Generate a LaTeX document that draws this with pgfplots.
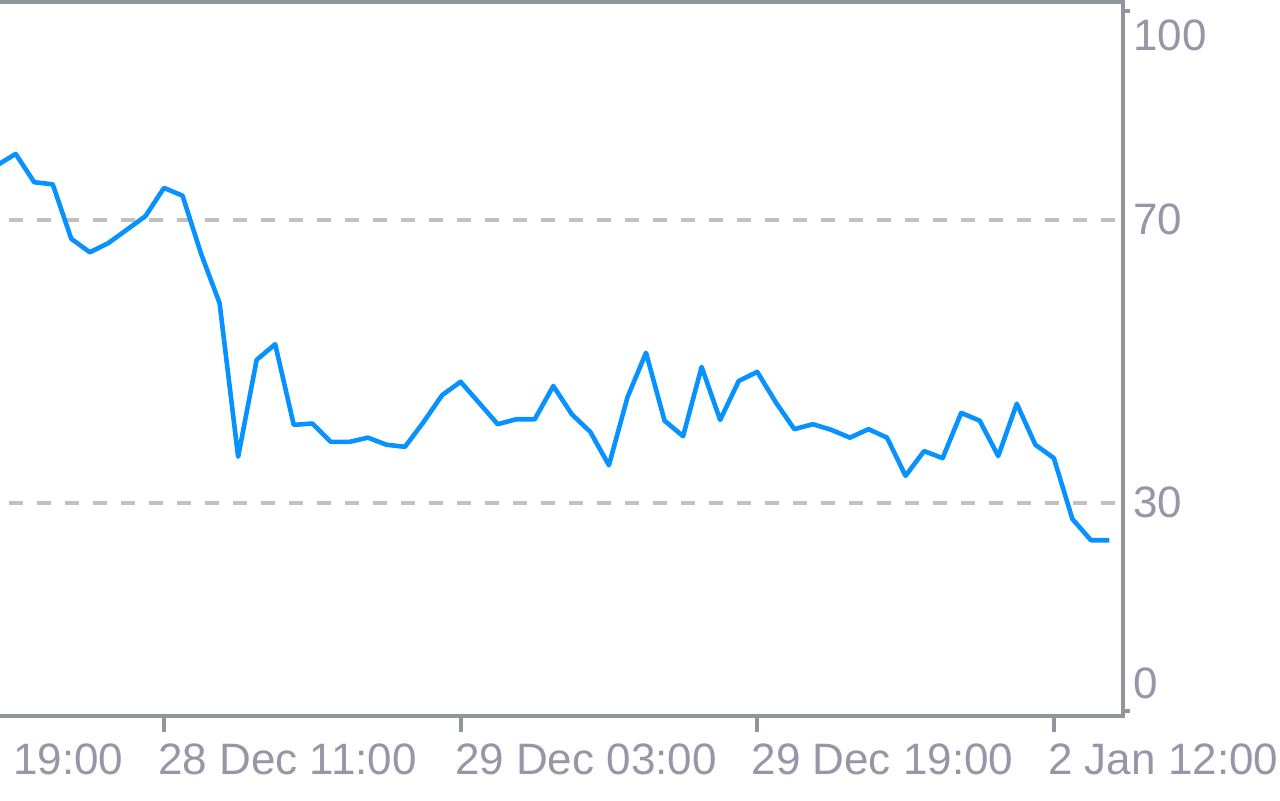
\documentclass[border=0pt]{standalone}
\usepackage{fontspec}
\setmainfont{Liberation Sans}
\usepackage{pgfplots}
\pgfplotsset{compat=1.18}
\definecolor{framecol}{RGB}{145,150,157}
\definecolor{linecol}{RGB}{8,146,255}
\definecolor{gridcol}{RGB}{192,192,192}
\definecolor{textcol}{RGB}{150,150,168}
\tikzset{
  xlab/.style={anchor=base west, inner sep=0pt, xshift=-3pt, yshift=-29pt, text=textcol, font=\fontsize{22}{26}\selectfont},
  ylab/.style={anchor=west, inner sep=0pt, xshift=5pt, text=textcol, font=\fontsize{22}{26}\selectfont},
}
\begin{document}
\begin{tikzpicture}
\begin{axis}[
  scale only axis,
  width=561.5pt, height=356.75pt,
  xmin=-8.845, xmax=51.73,
  ymin=-0.14, ymax=100.7,
  clip=false,
  axis line style={draw=none},
  xtick={0,16,32,48},
  xticklabels={},
  xtick pos=bottom,
  ytick=\empty,
  tick align=outside,
  major tick length=8pt,
  every tick/.style={framecol, line width=2pt},
]
\coordinate (tl) at (rel axis cs:0,1);
\coordinate (t0) at (axis cs:51.73,0.57);
\coordinate (t100) at (axis cs:51.73,99.5);
% level lines
\draw[gridcol, line width=2.1pt, dash pattern=on 7pt off 7pt, dash phase=9.5pt] (axis cs:-8.845,70) -- (axis cs:51.73,70);
\draw[gridcol, line width=2.1pt, dash pattern=on 7pt off 7pt, dash phase=9.5pt] (axis cs:-8.845,30) -- (axis cs:51.73,30);
% RSI line
\addplot[linecol, line width=2.3pt, line join=round, mark=none] coordinates {
(-9,77.7) (-8,79.3) (-7,75.3) (-6,75.0) (-5,67.3) (-4,65.4) (-3,66.7) (-2,68.6) (-1,70.5)
(0,74.5) (1,73.4) (2,65.2) (3,58.2) (4,36.5) (5,50.2) (6,52.4) (7,41.0) (8,41.2) (9,38.6)
(10,38.6) (11,39.2) (12,38.2) (13,37.9) (14,41.4) (15,45.2) (16,47.1) (17,44.1) (18,41.1)
(19,41.8) (20,41.8) (21,46.5) (22,42.5) (23,40.0) (24,35.3) (25,44.9) (26,51.2) (27,41.6)
(28,39.4) (29,49.2) (30,41.7) (31,47.2) (32,48.5) (33,44.2) (34,40.4) (35,41.1) (36,40.3)
(37,39.2) (38,40.4) (39,39.2) (40,33.8) (41,37.3) (42,36.3) (43,42.7) (44,41.6) (45,36.6)
(46,44.0) (47,38.2) (48,36.3) (49,27.7) (50,24.7) (51,24.7)
};
% frame (top, right, bottom)
\draw[framecol, line width=2pt, line join=miter] (rel axis cs:0,1) -- (rel axis cs:1,1) -- (rel axis cs:1,0) -- (rel axis cs:0,0);
% y labels
\node[ylab] at (axis cs:51.73,96.1) {100};
\node[ylab] at (axis cs:51.73,70) {70};
\node[ylab] at (axis cs:51.73,30) {30};
\node[ylab] at (axis cs:51.73,4.45) {0};
% x labels
\node[xlab] at (axis cs:-16,-0.14) {27 Dec 19:00};
\node[xlab] at (axis cs:0,-0.14) {28 Dec 11:00};
\node[xlab] at (axis cs:16,-0.14) {29 Dec 03:00};
\node[xlab] at (axis cs:32,-0.14) {29 Dec 19:00};
\node[xlab] at (axis cs:48,-0.14) {2 Jan 12:00};
\end{axis}
% right ticks at 0 and 100
\draw[framecol, line width=2pt] (t0) -- ([xshift=3.5pt]t0);
\draw[framecol, line width=2pt] (t100) -- ([xshift=3.5pt]t100);
\pgfresetboundingbox
\path[use as bounding box] ([yshift=1.25pt]tl) rectangle ++(640pt,-400pt);
\end{tikzpicture}
\end{document}
